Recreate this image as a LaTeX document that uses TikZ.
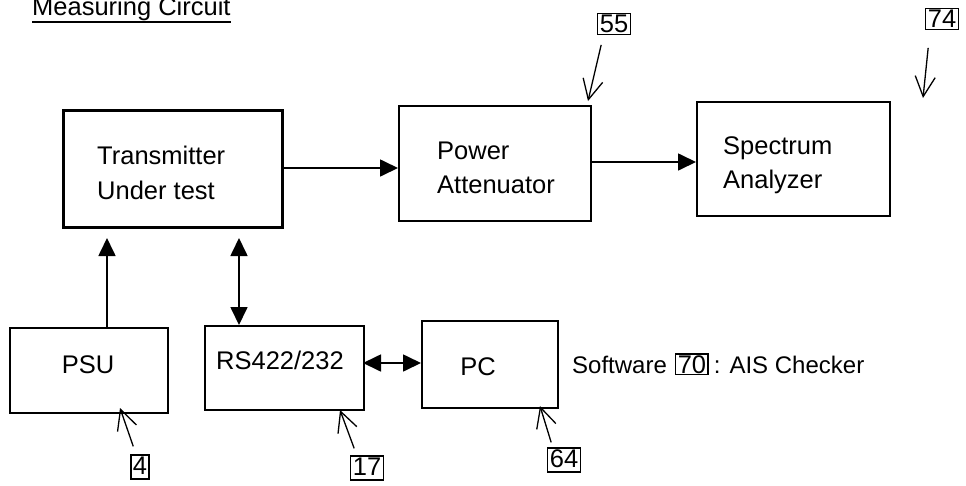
\documentclass[tikz,border=0pt]{standalone}
\usepackage{fontspec}
\setmainfont{Liberation Sans}
\usetikzlibrary{arrows.meta}
\begin{document}
\begin{tikzpicture}[x=1pt,y=-1pt,
  box/.style={draw, line width=1.8pt, anchor=north west, inner sep=0pt},
  thickbox/.style={box, line width=3.2pt},
  txt/.style={anchor=base west, inner sep=0pt, font=\fontsize{25.5}{25.5}\selectfont},
  ctxt/.style={anchor=base, inner sep=0pt, font=\fontsize{25.5}{25.5}\selectfont},
  num/.style={draw, line width=1.3pt, inner xsep=2pt, inner ysep=0pt, text height=19pt, text depth=1.5pt, font=\fontsize{25.5}{25.5}\selectfont},
  conn/.style={line width=1.7pt, -{Triangle[length=18pt,width=17pt]}},
  dconn/.style={line width=1.7pt, {Triangle[length=18pt,width=17pt]}-{Triangle[length=18pt,width=17pt]}},
  ptr/.style={line width=1.3pt, -{Straight Barb[length=20pt,width=20pt,line width=1.3pt]}}]
\useasboundingbox (0,0) rectangle (966,485);
% title
\node[txt, font=\fontsize{25.5}{25.5}\selectfont] (title) at (32,15) {Measuring Circuit};
\draw[line width=1.3pt] (title.base west |- 0,22) -- (title.base east |- 0,22);
% boxes
\node[thickbox, minimum width=219pt, minimum height=117pt] (tx) at (62,109) {};
\node[box, minimum width=192pt, minimum height=115pt] (pa) at (398,105) {};
\node[box, minimum width=193pt, minimum height=114pt] (sa) at (696,101) {};
\node[box, minimum width=158pt, minimum height=85pt] (psu) at (9,327) {};
\node[box, minimum width=159pt, minimum height=84pt] (rs) at (204,325) {};
\node[box, minimum width=136pt, minimum height=87pt] (pc) at (421,320) {};
% texts
\node[txt] (t1) at (97,164) {Transmitter};
\node[txt] (t2) at (97,199) {Under test};
\node[txt] (p1) at (437,159) {Power};
\node[txt] (p2) at (437,193) {Attenuator};
\node[txt] (s1) at (723,154) {Spectrum};
\node[txt] (s2) at (723,188) {Analyzer};
\node[ctxt] (psut) at (88,373) {PSU};
\node[ctxt] (rst) at (280,369) {RS422/232};
\node[ctxt] (pct) at (478,375) {PC};
\node[txt, font=\fontsize{24}{24}\selectfont] (sw) at (572,373) {Software};
\node[num, anchor=base west] (n70) at ([xshift=8pt]sw.base east) {70};
\node[txt, font=\fontsize{24}{24}\selectfont, anchor=base west] (ais) at ([xshift=5pt]n70.base east) {: AIS Checker};
% reference numbers
\node[num] (n55) at (614,24) {55};
\node[num] (n74) at (942,19) {74};
\node[num, text depth=5pt] (n4) at (140,467) {4};
\node[num, text depth=5pt] (n17) at (367,468) {17};
\node[num, text depth=5pt] (n64) at (564,460) {64};
% connector coordinates
\coordinate (a1) at (281,168);
\coordinate (a2) at (398,168);
\coordinate (b1) at (590,162);
\coordinate (b2) at (696,162);
\coordinate (c1) at (107,238);
\coordinate (d1) at (239,238);
\coordinate (e1) at (363,363);
\coordinate (e2) at (421,363);
\draw[conn] (a1) -- (a2);
\draw[conn] (b1) -- (b2);
\draw[conn] (psu.north -| c1) -- (c1);
\draw[dconn] (rs.north -| d1) -- (d1);
\draw[dconn] (e1) -- (e2);
% pointer arrows
\coordinate (q55) at (588,101);
\coordinate (q74) at (923,98);
\coordinate (q4) at (120,408);
\coordinate (q17) at (340,410);
\coordinate (q64) at (540,406);
\draw[ptr] (n55.south west) ++(4,10) -- (q55);
\draw[ptr] (n74.south west) ++(3,18) -- (q74);
\draw[ptr] (n4.north west) ++(3,-8) -- (q4);
\draw[ptr] (n17.north west) ++(4,-7) -- (q17);
\draw[ptr] (n64.north west) ++(4,-5) -- (q64);
\end{tikzpicture}
\end{document}
